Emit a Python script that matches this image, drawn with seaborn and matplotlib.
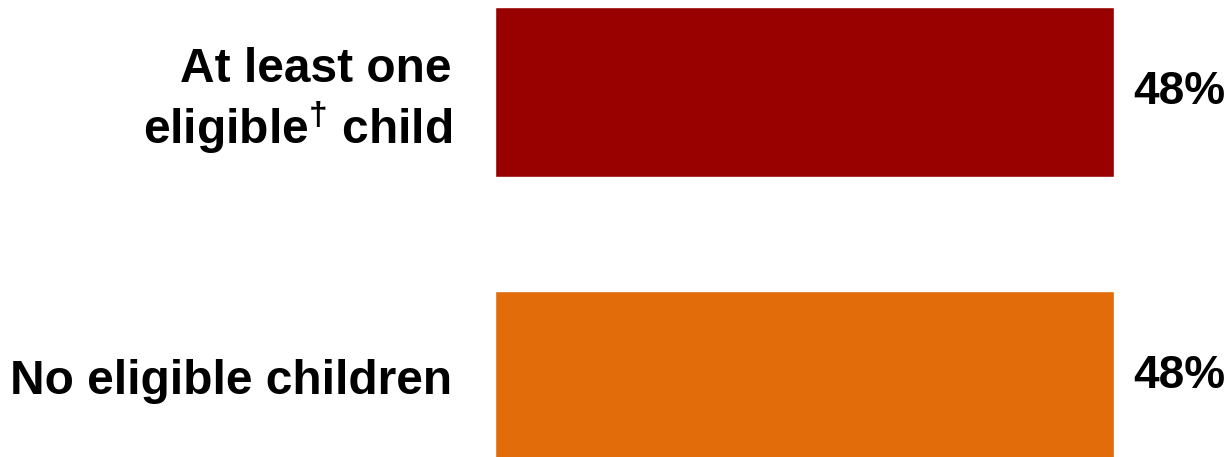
import matplotlib
matplotlib.use("Agg")
import matplotlib.pyplot as plt
import seaborn as sns
import pandas as pd

#-----------------------------data
groups = ["At least one\neligible$^{\\dagger}$ child", "No eligible children"]
values = [48, 48]
colors = ["#990000", "#E36C0A"]

df = pd.DataFrame({"group": groups, "pct": values})

#-----------------------------style
sns.set_style("white")
plt.rcParams["font.family"] = ["Liberation Sans", "DejaVu Sans"]
plt.rcParams["text.color"] = "black"
plt.rcParams["mathtext.fontset"] = "custom"
plt.rcParams["mathtext.rm"] = "Liberation Sans:bold"
plt.rcParams["mathtext.it"] = "Liberation Sans:bold"
plt.rcParams["mathtext.bf"] = "Liberation Sans:bold"

fig = plt.figure(figsize=(12.26, 4.57), dpi=100)
# px per unit: 619 px for 48 -> axes starts at bar left edge
left = 495 / 1226
width = (619 / 48) * 60 / 1226
ax = fig.add_axes([left, 0, width, 1])

sns.barplot(data=df, y="group", x="pct", hue="group", palette=colors,
            orient="h", width=0.6, legend=False, ax=ax, saturation=1)

ax.set_xlim(0, 60)
ax.set_ylim(1 + 81 / 284, -92 / 284)
ax.set_xlabel("")
ax.set_ylabel("")
ax.set_xticks([])
sns.despine(ax=ax, left=True, bottom=True)
ax.tick_params(axis="y", length=0, pad=31, labelcolor="black")
for lab in ax.get_yticklabels():
    lab.set_fontsize(34.5)
    lab.set_fontweight("bold")
    lab.set_linespacing(1.17)
    lab.set_ha("right")

# value labels
for i, v in enumerate(values):
    ax.text(v + 1.5, i, f"{v}%", va="center", ha="left", fontsize=33,
            fontweight="bold", color="black", clip_on=False)

fig.savefig("out.png", dpi=100)
